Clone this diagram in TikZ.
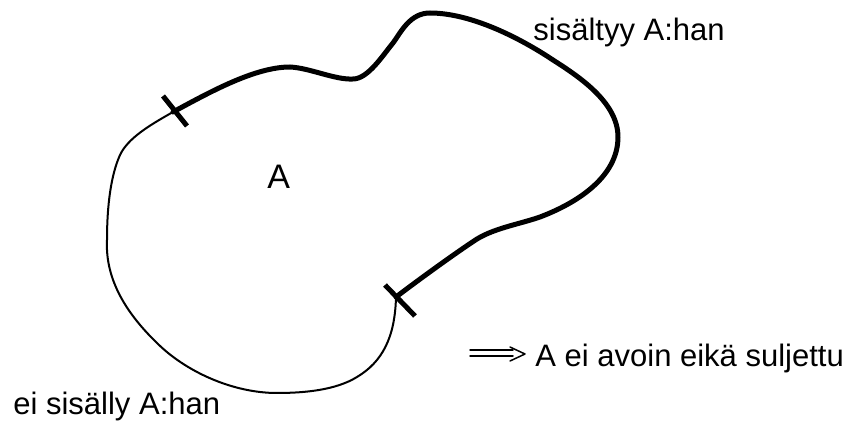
\documentclass[tikz,border=0pt]{standalone}
\usepackage{fontspec}
\setmainfont{Liberation Sans}
\begin{document}
\begin{tikzpicture}[x=.5pt,y=-.5pt,font=\fontsize{15.5}{18}\selectfont,line cap=round,line join=round,
    inside/.style={line width=2.5pt},
    outside/.style={line width=1pt},
    cut/.style={line width=2.5pt,line cap=butt},
    implies/.style={line width=.75pt},
    lbl/.style={anchor=base west,inner sep=0pt}]
    \useasboundingbox (0,0) rectangle (859,427);
    \coordinate (p) at (173,112);
    \coordinate (q) at (396,297);
    \draw[inside] (p)
      .. controls (210,92) and (255,67) .. (290,67)
      .. controls (310,68) and (335,80) .. (353,79)
      .. controls (368,79) and (383,55) .. (393,43)
      .. controls (401,32) and (410,13) .. (430,13)
      .. controls (471,13) and (520,38) .. (553,60)
      .. controls (578,76) and (618,102) .. (618,137)
      .. controls (618,177) and (577,203) .. (540,217)
      .. controls (520,224) and (495,228) .. (477,239)
      .. controls (460,250) and (425,275) .. (q);
    \draw[outside] (q)
      .. controls (395,338) and (382,362) .. (357,377)
      .. controls (336,390) and (305,393) .. (277,393)
      .. controls (232,393) and (185,371) .. (157,343)
      .. controls (127,314) and (105,280) .. (107,240)
      .. controls (107,205) and (111,175) .. (120,155)
      .. controls (128,138) and (150,125) .. (p);
    \draw[cut] (p) ++(-10,-16) -- ++(24,30);
    \draw[cut] (q) ++(-11,-12) -- ++(30,31);
    \node[lbl,font=\fontsize{17}{20}\selectfont] (set) at (267,189) {A};
    \node[lbl] (inc) at (533,41) {sisältyy A:han};
    \node[lbl] (exc) at (13,415) {ei sisälly A:han};
    \node[lbl] (res) at (535,367) {A ei avoin eikä suljettu};
    \coordinate (imp) at (470,353);
    \draw[implies] (imp) ++(0,-3) -- ++(43,0) (imp) ++(0,3) -- ++(43,0);
    \draw[implies] (imp) ++(40,-6) -- ++(15,7) -- ++(-15,7);
  \end{tikzpicture}
\end{document}
